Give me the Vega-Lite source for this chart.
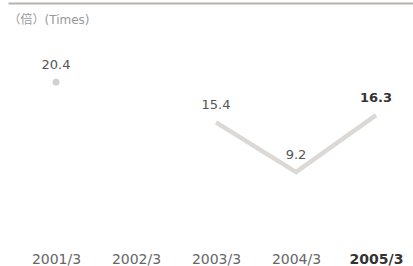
{
  "$schema": "https://vega.github.io/schema/vega-lite/v6.json",
  "width": 405,
  "height": 243,
  "autosize": {"type": "none"},
  "padding": {"left": 8, "top": 3, "right": 0, "bottom": 20},
  "background": "white",
  "config": {"view": {"stroke": null}},
  "data": {
    "values": [
      {"year": "2001/3", "value": 20.4},
      {"year": "2002/3", "value": null},
      {"year": "2003/3", "value": 15.4},
      {"year": "2004/3", "value": 9.2},
      {"year": "2005/3", "value": 16.3}
    ]
  },
  "encoding": {
    "x": {
      "field": "year",
      "type": "ordinal",
      "sort": null,
      "scale": {"type": "point", "domain": ["2001/3", "2002/3", "2003/3", "2004/3", "2005/3"], "padding": 0.53125, "align": 0.565},
      "axis": {
        "orient": "bottom",
        "title": null,
        "domain": false,
        "ticks": false,
        "grid": false,
        "labelAngle": 0,
        "labelPadding": 6,
        "labelFont": "DejaVu Sans",
        "labelFontSize": 14,
        "labelColor": {"condition": {"test": "datum.value === '2005/3'", "value": "#333333"}, "value": "#666666"},
        "labelFontWeight": {"condition": {"test": "datum.value === '2005/3'", "value": "bold"}, "value": "normal"}
      }
    },
    "y": {
      "field": "value",
      "type": "quantitative",
      "scale": {"domain": [0, 30.26], "nice": false, "zero": true},
      "axis": {
        "values": [30.26],
        "labels": false,
        "ticks": false,
        "domain": false,
        "grid": true,
        "gridColor": "#b8b2ab",
        "gridWidth": 2,
        "gridOpacity": 1,
        "title": "（倍）(Times)",
        "titleAngle": 0,
        "titleX": 0,
        "titleY": 16,
        "titleAlign": "left",
        "titleBaseline": "middle",
        "titleFont": "DejaVu Sans, Noto Sans CJK JP",
        "titleFontSize": 12,
        "titleFontWeight": "normal",
        "titleColor": "#999999"
      }
    }
  },
  "layer": [
    {
      "transform": [{"filter": "datum.year >= '2003/3'"}],
      "mark": {"type": "line", "color": "#dcd8d6", "strokeWidth": 4.5}
    },
    {
      "transform": [{"filter": "datum.year === '2001/3'"}],
      "mark": {"type": "point", "filled": true, "color": "#d3d0cf", "size": 45, "opacity": 1}
    },
    {
      "transform": [{"filter": "datum.value != null && datum.year !== '2005/3'"}],
      "mark": {"type": "text", "dy": -17, "font": "DejaVu Sans", "fontSize": 13, "color": "#555555"},
      "encoding": {"text": {"field": "value", "type": "quantitative", "format": ".1f"}}
    },
    {
      "transform": [{"filter": "datum.year === '2005/3'"}],
      "mark": {"type": "text", "dy": -17, "font": "DejaVu Sans", "fontSize": 13, "fontWeight": "bold", "color": "#333333"},
      "encoding": {"text": {"field": "value", "type": "quantitative", "format": ".1f"}}
    }
  ]
}
